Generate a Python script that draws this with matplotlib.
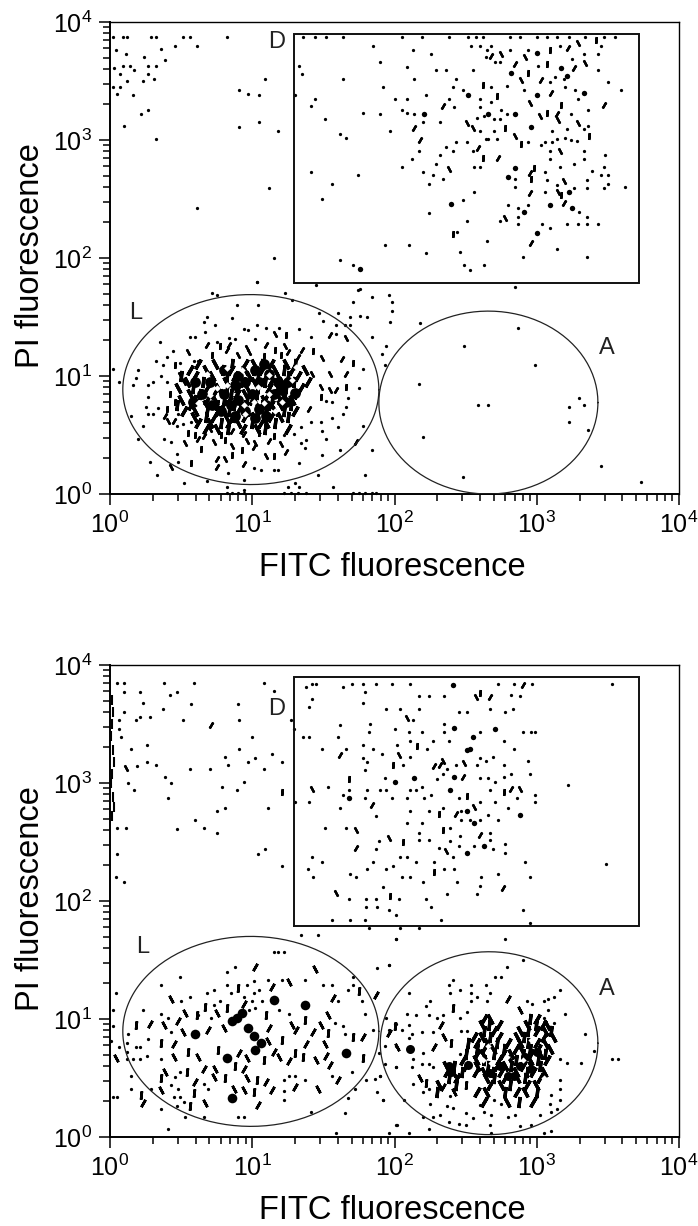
import numpy as np
import matplotlib
matplotlib.use("Agg")
from matplotlib import pyplot as plt
from matplotlib.ticker import LogLocator, NullFormatter

plt.rcParams['font.family'] = ['Liberation Sans', 'DejaVu Sans']

# all events are (log10 FITC, log10 PI)

# ---- upper panel ----
top_d_dots = [
    (1.36,3.87),(1.44,3.87),(1.52,3.87),(1.64,3.87),(2.05,3.87),(2.19,3.87),(2.38,3.87),(2.52,3.87),(2.57,3.87),(2.62,3.87),
    (2.81,3.87),(2.88,3.87),(3.00,3.87),(3.07,3.87),(3.14,3.87),(3.23,3.87),(3.34,3.87),(3.47,3.87),(3.55,3.87),
    (1.85,3.80),(2.13,3.76),(2.26,3.73),(2.54,3.80),(2.60,3.80),(2.68,3.80),(2.65,3.76),(2.64,3.70),(2.81,3.76),(2.94,3.76),
    (3.45,3.80),(3.33,3.73),(3.43,3.73),(3.25,3.69),(3.16,3.80),(2.71,3.66),(2.74,3.66),(3.43,3.59),(3.01,3.63),(3.13,3.53),
    (3.19,3.52),(3.09,3.49),(3.50,3.49),(1.90,3.66),(2.09,3.62),(2.29,3.59),(2.36,3.59),(2.55,3.59),(1.33,3.63),(1.35,3.56),
    (1.64,3.52),(2.14,3.52),(2.43,3.52),(1.92,3.45),(2.41,3.45),(2.68,3.45),(2.79,3.46),(2.91,3.42),(3.20,3.45),(3.27,3.42),
    (3.59,3.42),(2.48,3.42),(2.22,3.38),(1.30,3.38),(1.44,3.35),(2.00,3.35),(2.09,3.35),(2.38,3.35),(2.60,3.35),(2.68,3.32),
    (3.29,3.35),(1.41,3.29),(2.42,3.28),(2.60,3.28),(1.78,3.23),(1.90,3.22),(2.05,3.25),(2.09,3.23),(2.14,3.22),(2.58,3.19),
    (2.63,3.20),(2.70,3.18),(2.74,3.18),(2.75,3.25),(2.79,3.22),(3.24,3.22),(3.36,3.25),(1.51,3.18),(2.32,3.15),(2.20,3.15),
    (2.60,3.08),(2.70,3.08),(3.11,3.08),(3.21,3.09),(3.33,3.09),(3.36,3.12),(1.97,3.08),(1.62,3.05),(1.66,3.02),(2.64,3.01),
    (2.66,3.01),(2.72,3.01),(2.94,2.98),(3.03,2.96),(3.06,2.98),(3.11,2.98),(3.14,3.01),(3.20,3.02),(3.24,3.00),(3.28,2.99),
    (2.36,2.94),(2.43,2.98),(2.51,2.98),(2.55,2.91),(2.41,2.91),(2.17,2.91),(3.09,2.91),(3.33,2.91),(2.32,2.87),(3.48,2.87),
    (2.12,2.84),(3.09,2.84),(3.33,2.84),(2.29,2.80),(2.05,2.77),(2.56,2.77),(2.60,2.77),(3.16,2.77),(3.26,2.80),(3.47,2.77),
    (1.41,2.73),(2.20,2.73),(3.06,2.73),(3.39,2.74),(3.45,2.70),(3.50,2.70),(1.74,2.70),(2.27,2.70),(2.34,2.67),(2.85,2.67),
    (3.07,2.66),(3.35,2.66),(1.56,2.63),(2.24,2.63),(3.14,2.62),(3.50,2.63),(2.85,2.60),(3.26,2.59),(3.35,2.59),(3.47,2.59),
    (3.62,2.60),(3.06,2.56),(2.56,2.56),(1.49,2.50),(2.48,2.49),(2.80,2.45),(2.94,2.45),(3.30,2.39),(2.87,2.42),(2.24,2.38),
    (2.87,2.35),(3.35,2.35),(2.51,2.31),(2.74,2.31),(2.87,2.29),(3.04,2.29),(3.09,2.25),(3.21,2.29),(3.29,2.29),(3.35,2.29),
    (3.43,2.29),(2.44,2.22),(2.65,2.14),(1.93,2.11),(2.10,2.11),(3.14,2.08),(2.22,2.04),(2.46,2.05),(2.90,2.01),(3.35,2.01),
    (1.62,1.98),(1.71,1.94),(2.49,1.94),(2.53,1.90),(2.63,1.94),
]
top_d_strokes = [
    (2.68,3.71),(2.75,3.73),(3.09,3.76),(3.22,3.78),(3.29,3.82),(3.42,3.85),(2.85,3.64),(2.92,3.70),(3.07,3.64),(3.26,3.61),
    (3.34,3.65),(2.94,3.57),(3.03,3.51),(2.89,3.51),(2.62,3.47),(3.10,3.40),(2.51,3.14),(2.72,3.37),(2.34,3.29),(2.95,3.31),
    (3.17,3.30),(3.47,3.30),(3.02,3.20),(3.07,3.23),(3.14,3.22),(3.15,3.17),(2.78,3.10),(2.14,3.10),(3.29,3.14),(3.37,3.03),
    (2.18,3.00),(2.85,3.03),(2.89,2.97),(2.59,2.93),(3.16,2.91),(2.62,2.85),(2.73,2.85),(2.38,2.75),(2.98,2.76),(2.95,2.72),
    (3.19,2.65),(2.96,2.67),(2.95,2.55),(3.15,2.56),(3.17,2.53),(3.19,2.47),(2.78,2.34),(2.41,2.20),(2.96,2.13),(2.55,3.10),
]
top_d_blobs = [
    (3.00,3.74),(2.82,3.57),(3.21,3.54),(3.17,3.61),(3.33,3.40),(2.52,3.38),(3.00,3.38),(2.21,3.22),(2.66,3.22),(2.85,3.22),
    (2.96,3.11),(2.85,2.76),(2.80,2.69),(3.23,2.56),(2.40,2.46),(3.09,2.45),(3.25,2.42),(2.91,2.39),(3.00,2.21),(1.76,1.91),
]
top_left_dots = [
    (0.02,3.87),(0.09,3.87),(0.12,3.87),(0.29,3.87),(0.32,3.87),(0.51,3.87),(0.56,3.87),(0.82,3.87),(0.61,3.80),(0.46,3.80),
    (0.36,3.77),(0.04,3.76),(0.11,3.73),(0.24,3.70),(0.39,3.68),(0.03,3.61),(0.09,3.63),(0.14,3.63),(0.17,3.59),(0.27,3.63),
    (0.32,3.63),(0.07,3.56),(0.27,3.56),(0.31,3.52),(0.12,3.50),(0.23,3.50),(0.02,3.45),(0.07,3.45),(0.05,3.39),(0.16,3.38),
    (1.09,3.52),(0.91,3.42),(0.97,3.39),(1.05,3.38),(0.27,3.25),(0.22,3.22),(0.10,3.12),(0.91,3.11),(1.05,3.15),(1.18,3.08),
    (0.32,3.01),(1.12,2.59),(0.61,2.42),(1.15,2.00),(1.03,1.80),
]
top_a_dots = [
    (2.17,0.93),(2.59,0.75),(2.66,0.75),(2.20,0.48),(2.99,1.09),(3.23,0.74),(3.33,0.75),(3.30,0.81),(3.23,0.61),(3.36,0.54),
    (2.48,0.14),(3.45,0.24),(3.73,0.10),(1.94,1.25),(1.74,1.73),(1.96,1.69),(1.98,1.55),(1.76,1.51),(1.65,1.43),(2.49,1.25),
    (2.87,1.41),(2.85,1.75),(2.18,1.45),
]
top_l_dots = [
    (0.72,1.70),(0.75,1.69),(1.23,1.70),(1.03,1.80),(1.45,1.77),(1.76,1.74),(1.84,1.67),(1.71,1.63),(1.98,1.63),(1.28,1.64),
    (0.89,1.60),(1.04,1.60),(1.47,1.53),(1.60,1.53),(1.69,1.50),(1.81,1.50),(1.69,1.43),(1.97,1.46),(0.86,1.49),(0.68,1.50),
    (0.66,1.46),(0.74,1.43),(1.50,1.47),(1.59,1.43),(0.94,1.40),(1.03,1.43),(1.10,1.41),(1.19,1.41),(1.33,1.40),(0.56,1.33),
    (0.60,1.33),(0.67,1.37),(0.35,1.29),(0.84,1.32),(0.88,1.31),(0.75,1.29),(0.97,1.39),(1.02,1.31),(1.41,1.33),(1.84,1.33),
    (1.59,1.36),(0.44,1.21),(0.40,1.16),(0.32,1.13),(0.37,1.09),(0.49,1.11),(0.59,1.13),(0.62,1.13),(1.91,1.19),(1.93,1.09),
    (0.20,1.05),(0.02,1.06),(0.06,0.95),(0.18,0.98),(0.16,0.92),(0.27,0.92),(0.30,0.95),(0.40,0.95),(0.36,1.00),(1.78,1.06),
    (1.75,0.90),(1.67,0.81),(0.27,0.82),(0.34,0.73),(0.25,0.74),(0.30,0.68),(0.27,0.68),(0.15,0.66),(0.48,0.68),(0.23,0.58),
    (0.47,0.58),(0.51,0.59),(0.57,0.61),(1.64,0.68),(1.66,0.74),(1.56,0.78),(1.52,0.79),(1.56,0.64),(1.60,0.57),(1.48,0.61),
    (1.41,0.61),(1.34,0.57),(1.78,0.58),(0.20,0.47),(0.38,0.47),(0.43,0.44),(0.47,0.34),(1.22,0.50),(1.29,0.51),(1.34,0.43),
    (1.38,0.46),(1.49,0.53),(1.52,0.47),(1.37,0.39),(1.49,0.33),(1.62,0.37),(1.84,0.37),(0.28,0.27),(0.33,0.16),(0.48,0.27),
    (0.52,0.09),(0.68,0.11),(1.01,0.22),(1.06,0.20),(1.15,0.20),(1.18,0.20),(1.33,0.26),(1.46,0.16),(1.79,0.16),(1.57,0.06),
    (1.25,0.06),(1.30,0.09),(1.33,0.06),(0.82,0.06),(0.94,0.03),(0.94,0.12),(0.83,0.18),
]
top_l_strokes = [
    (0.68,1.26),(1.16,1.36),(1.24,1.35),(1.55,1.35),(1.66,1.32),(1.71,1.11),(1.63,1.14),(1.49,1.15),(1.43,1.21),(1.35,1.22),
    (1.23,1.25),(1.16,1.22),(1.10,1.26),(0.96,1.24),(0.77,1.25),(0.84,1.26),(0.49,1.01),(0.46,1.09),(1.66,1.02),(1.55,1.02),
    (1.66,0.91),(1.59,0.88),(1.48,0.91),(0.46,0.78),(0.39,0.66),(0.53,0.43),(0.60,0.50),(0.66,0.49),(0.73,0.44),(0.81,0.46),
    (0.94,0.51),(1.02,0.43),(1.15,0.49),(1.73,0.44),(0.43,0.23),(0.57,0.26),(0.75,0.23),(0.81,0.30),(0.86,0.33),(0.94,0.25),
    (1.10,0.32),(1.15,0.32),(1.24,0.36),(0.86,0.41),(0.93,0.37),(1.01,0.40),(0.41,0.62),(1.20,1.18),(1.32,1.16),(0.90,1.18),
    (0.55,0.52),(0.62,0.47),(0.70,0.55),(0.78,0.50),(0.86,0.53),(0.96,0.45),(1.05,0.52),(1.12,0.45),(1.20,0.42),(0.64,0.38),
    (0.75,0.30),(0.55,1.20),(0.72,1.18),(0.82,1.22),(0.98,1.20),(1.08,1.17),(1.25,1.20),(1.42,1.02),(1.48,0.82),(1.40,0.72),
    (1.55,0.88),(0.40,0.72),(0.45,0.62),(0.52,0.95),(0.42,0.85),
]
# dense middle of the L population, one row per PI level
top_l_core_y = [1.10, 1.05, 1.00, 0.95, 0.90, 0.85, 0.80, 0.75, 0.70, 0.65, 0.60, 0.55]
top_l_core_x = [
    [0.62, 0.74, 0.86, 0.95, 1.01, 1.07, 1.13, 1.24, 1.30],
    [0.55, 0.66, 0.78, 0.84, 0.94, 1.00, 1.06, 1.15, 1.21, 1.27, 1.36],
    [0.50, 0.60, 0.72, 0.82, 0.88, 0.98, 1.04, 1.10, 1.18, 1.25, 1.32],
    [0.53, 0.64, 0.70, 0.80, 0.86, 0.92, 1.00, 1.08, 1.12, 1.20, 1.28, 1.38],
    [0.48, 0.58, 0.68, 0.76, 0.82, 0.90, 0.96, 1.04, 1.12, 1.18, 1.24, 1.34],
    [0.55, 0.62, 0.72, 0.78, 0.84, 0.88, 0.94, 1.02, 1.10, 1.16, 1.22, 1.30],
    [0.50, 0.60, 0.68, 0.74, 0.80, 0.84, 0.90, 0.96, 1.00, 1.08, 1.14, 1.20, 1.28],
    [0.46, 0.56, 0.66, 0.74, 0.78, 0.82, 0.86, 0.92, 1.02, 1.06, 1.12, 1.18, 1.26],
    [0.52, 0.60, 0.68, 0.76, 0.80, 0.84, 0.90, 0.96, 1.04, 1.10, 1.16, 1.22, 1.30],
    [0.58, 0.66, 0.72, 0.80, 0.86, 0.94, 1.00, 1.08, 1.12, 1.18, 1.24],
    [0.62, 0.70, 0.78, 0.84, 0.90, 1.00, 1.06, 1.10, 1.16],
    [0.66, 0.74, 0.82, 0.92, 1.02, 1.08, 1.24],
]
top_l_blobs = [
    (0.95,0.95),(1.02,1.05),(1.05,0.95),(0.80,0.85),(0.85,0.75),(0.90,0.80),(1.15,0.85),(1.10,0.75),(1.18,0.95),(0.70,0.95),
    (0.72,0.75),(0.95,0.70),(1.05,0.72),(1.00,0.85),(0.88,0.92),(1.12,1.02),(0.65,0.85),(1.24,0.78),(1.25,0.95),(0.80,1.05),
    (0.90,1.00),(0.78,0.70),(0.88,0.66),(1.02,0.64),(1.10,0.66),(1.20,0.88),(0.60,0.95),(0.58,0.78),(1.30,0.86),(1.08,1.10),
]
top_l_holes = [
    (1.04,0.91),(1.12,0.85),(1.08,0.77),(1.21,0.78),(1.01,0.78),(0.94,0.75),(0.75,0.90),(0.70,0.84),(0.82,0.92),(0.93,1.05),
    (1.12,1.01),(1.28,0.97),(0.62,0.77),(1.16,0.70),(0.95,0.68),(0.82,1.07),(0.68,1.02),(1.31,1.08),
]
top_axis_dots = [(0.82,0.01),(0.86,0.01),(0.90,0.01),(0.94,0.01),(1.22,0.01),(1.27,0.01),(1.32,0.01),(1.38,0.01),
                 (1.71,0.01),(1.75,0.01),(1.79,0.01),(1.84,0.01),(1.87,0.01)]

# ---- lower panel ----
bottom_d_dots = [
    (1.38,3.81),(1.42,3.84),(1.45,3.84),(1.64,3.81),(1.70,3.84),(1.78,3.84),(1.87,3.84),(1.98,3.84),(2.11,3.84),(2.73,3.84),
    (2.84,3.84),(2.97,3.84),(3.53,3.84),(1.79,3.77),(2.17,3.74),(2.24,3.74),(2.35,3.74),(2.82,3.75),(2.88,3.74),(1.42,3.71),
    (1.78,3.68),(1.40,3.64),(1.94,3.63),(2.04,3.63),(2.17,3.63),(2.67,3.63),(2.83,3.63),(2.45,3.60),(2.51,3.60),(2.78,3.60),
    (2.13,3.53),(1.62,3.49),(1.83,3.50),(2.35,3.50),(2.00,3.46),(1.29,3.46),(1.82,3.43),(2.10,3.43),(2.19,3.43),(2.35,3.43),
    (2.60,3.43),(2.90,3.43),(2.96,3.43),(2.99,3.43),(1.36,3.39),(1.40,3.39),(1.60,3.39),(2.11,3.36),(2.27,3.36),(2.38,3.36),
    (2.77,3.36),(1.78,3.32),(2.02,3.32),(1.49,3.29),(1.66,3.29),(1.85,3.29),(2.23,3.29),(2.84,3.29),(1.91,3.25),(2.11,3.22),
    (1.78,3.21),(2.60,3.21),(2.69,3.22),(1.81,3.18),(2.64,3.19),(2.94,3.19),(2.06,3.15),(2.43,3.15),(2.58,3.15),(2.77,3.15),
    (1.79,3.11),(2.37,3.12),(2.34,3.08),(2.82,3.08),(2.95,3.08),(1.93,3.04),(2.30,3.03),(2.60,3.04),(2.66,3.04),(2.77,3.05),
    (2.71,3.01),(1.53,2.97),(1.68,2.94),(1.81,2.94),(1.90,2.94),(1.94,2.94),(2.11,2.94),(2.15,2.94),(2.19,2.97),(2.67,2.94),
    (3.22,2.98),(1.64,2.90),(1.79,2.87),(1.98,2.87),(2.09,2.87),(2.21,2.87),(2.26,2.90),(2.45,2.87),(2.86,2.87),(2.99,2.90),
    (1.40,2.84),(1.30,2.84),(2.60,2.84),(2.71,2.84),(2.99,2.84),(1.62,2.79),(2.34,2.79),(2.80,2.79),(2.11,2.76),(2.24,2.76),
    (2.47,2.76),(2.50,2.76),(1.87,2.72),(2.66,2.73),(2.47,2.69),(2.53,2.69),(2.60,2.69),(2.73,2.69),(2.09,2.66),(2.19,2.66),
    (1.51,2.62),(1.66,2.62),(2.39,2.62),(2.17,2.58),(2.67,2.58),(1.89,2.51),(2.17,2.52),(2.24,2.52),(2.39,2.51),(2.46,2.55),
    (2.67,2.52),(1.87,2.44),(2.31,2.45),(2.45,2.47),(2.56,2.47),(2.69,2.44),(2.78,2.48),(2.78,2.41),(1.42,2.37),(1.49,2.33),
    (1.85,2.33),(2.04,2.37),(2.09,2.37),(2.15,2.33),(2.28,2.33),(2.41,2.37),(2.92,2.33),(3.49,2.31),(1.39,2.27),(1.81,2.27),
    (1.94,2.27),(1.99,2.30),(2.35,2.27),(2.42,2.27),(1.69,2.23),(2.73,2.23),(1.43,2.20),(1.73,2.20),(2.05,2.20),(2.11,2.20),
    (2.20,2.16),(2.44,2.16),(2.61,2.20),(2.95,2.20),(1.92,2.12),(2.60,2.13),(2.37,2.06),(2.58,2.06),(1.68,2.02),(1.80,2.02),
    (1.87,2.02),(2.03,2.02),(2.22,2.02),(1.80,1.95),(1.88,1.95),(2.26,1.95),(1.96,1.92),(2.01,1.88),(2.90,1.92),(1.56,1.84),
    (1.69,1.84),(1.79,1.84),(2.33,1.84),(2.95,1.81),(1.82,1.77),(2.04,1.77),(2.17,1.77),
]
bottom_d_strokes = [
    (2.90,3.83),(2.57,3.73),(2.60,3.76),(2.67,3.73),(2.09,3.55),(2.16,3.31),(1.62,3.24),(2.03,3.24),(1.99,3.15),(2.28,3.14),
    (2.49,3.17),(1.68,3.03),(2.48,3.05),(1.42,2.95),(2.77,2.92),(2.82,2.95),(2.88,2.95),(2.51,2.89),(1.84,2.81),(2.56,2.80),
    (2.31,2.74),(2.43,2.74),(1.73,2.60),(2.34,2.60),(2.60,2.56),(1.96,2.53),(2.06,2.50),(1.73,2.45),(2.36,2.42),(2.28,2.25),
    (2.76,2.11),(1.59,2.07),(1.97,2.04),(2.32,3.15),(2.34,3.19),
]
bottom_d_blobs = [
    (2.41,3.83),(2.42,3.47),(2.71,3.46),(2.53,3.29),(2.51,3.28),(2.00,3.01),(2.14,3.04),(2.42,3.05),(2.39,2.94),(1.68,2.87),
    (2.51,2.76),(2.88,2.73),(2.56,2.66),(2.51,2.41),(2.63,2.47),(2.55,3.39),
]
bottom_left_dots = [
    (0.05,3.85),(0.10,3.85),(0.38,3.85),(0.59,3.85),(1.08,3.85),(1.15,3.78),(0.10,3.77),(0.21,3.77),(0.42,3.75),(0.47,3.77),
    (0.23,3.68),(0.57,3.67),(0.90,3.67),(0.37,3.63),(0.10,3.60),(0.28,3.56),(0.21,3.56),(0.18,3.53),(0.06,3.53),(0.51,3.53),
    (0.91,3.53),(1.27,3.53),(0.06,3.46),(0.08,3.39),(1.00,3.39),(0.26,3.32),(0.15,3.29),(0.91,3.29),(0.81,3.22),(1.14,3.25),
    (0.97,3.18),(1.02,3.21),(1.21,3.18),(0.26,3.18),(0.19,3.14),(0.32,3.15),(0.83,3.15),(0.56,3.12),(0.70,3.12),(1.08,3.12),
    (0.39,3.05),(0.43,3.00),(0.13,3.00),(0.94,3.01),(0.79,2.97),(0.89,2.94),(0.17,2.94),(0.41,2.87),(0.81,2.79),(0.75,2.76),
    (1.11,2.79),(0.60,2.69),(0.66,2.62),(0.47,2.61),(0.75,2.58),(0.05,2.62),(0.11,2.62),(1.04,2.40),(1.09,2.44),(0.05,2.40),
    (1.21,2.30),(0.04,2.20),(0.10,2.16),
]
bottom_left_strokes = [(0.71,3.49),(0.11,3.13),(1.21,2.92)]
# events piled against the PI axis
bottom_edge_y = [3.70, 3.60, 3.50, 3.40, 3.28, 3.18, 3.08, 3.00, 2.88, 2.80, 2.72]
bottom_edge_x = [0.015, 0.02, 0.015, 0.01, 0.02, 0.03, 0.015, 0.01, 0.02, 0.03, 0.015]

bottom_l_dots = [
    (1.34,1.71),(1.46,1.71),(2.01,1.68),(1.15,1.57),(1.18,1.57),(1.22,1.57),(0.88,1.44),(0.82,1.40),(1.96,1.46),(1.88,1.43),
    (0.49,1.36),(1.71,1.36),(0.36,1.29),(0.82,1.29),(0.96,1.29),(1.01,1.32),(1.05,1.25),(1.11,1.33),(1.21,1.33),(1.37,1.33),
    (1.50,1.29),(1.56,1.29),(1.67,1.25),(1.71,1.29),(0.04,1.22),(0.68,1.22),(0.73,1.25),(0.85,1.22),(1.01,1.22),(0.56,1.19),
    (0.50,1.15),(0.73,1.12),(0.77,1.15),(0.94,1.19),(1.00,1.15),(1.07,1.15),(1.60,1.15),(1.77,1.15),(0.23,1.08),(0.36,1.04),
    (0.41,1.01),(0.62,1.03),(0.71,1.01),(0.98,1.08),(1.02,1.09),(1.19,1.08),(1.26,1.04),(1.79,1.04),(0.02,1.08),(1.58,0.97),
    (1.64,0.94),(2.01,0.96),(0.02,0.94),(0.13,0.87),(0.43,0.89),(0.27,0.83),(1.85,0.91),(1.65,0.87),(0.01,0.81),(0.06,0.76),
    (0.12,0.80),(0.18,0.76),(0.21,0.76),(0.12,0.72),(0.26,0.69),(0.36,0.66),(0.16,0.66),(0.21,0.66),(0.12,0.66),(1.89,0.71),
    (2.01,0.59),(0.49,0.55),(0.46,0.51),(0.15,0.52),(1.70,0.55),(1.56,0.52),(1.22,0.48),(1.26,0.52),(1.30,0.52),(1.37,0.48),
    (1.80,0.48),(1.86,0.49),(1.90,0.52),(0.15,0.41),(0.29,0.41),(0.43,0.44),(0.48,0.41),(0.66,0.45),(0.69,0.41),(1.22,0.39),
    (1.72,0.41),(1.88,0.38),(0.05,0.34),(0.02,0.34),(0.45,0.34),(0.49,0.34),(1.22,0.31),(1.67,0.33),(1.92,0.31),(0.36,0.24),
    (0.47,0.26),(0.52,0.30),(1.41,0.21),(1.65,0.20),(0.53,0.17),(0.66,0.17),(0.90,0.17),(0.94,0.17),(0.41,0.07),(1.59,0.03),
    (2.01,0.10),(1.96,0.03),
]
bottom_l_strokes = [
    (1.02,1.44),(1.44,1.42),(0.90,1.26),(1.14,1.27),(1.26,1.31),(1.75,1.24),(1.87,1.20),(0.43,1.17),(0.67,1.10),(1.57,1.18),
    (1.53,1.03),(0.18,0.95),(0.48,0.98),(0.51,0.89),(1.71,0.85),(1.78,0.85),(0.04,0.67),(1.78,0.67),(1.55,0.61),(0.39,0.55),
    (0.36,0.50),(1.60,0.48),(0.36,0.40),(0.59,0.37),(1.30,0.42),(1.46,0.41),(0.22,0.36),(0.23,0.29),(0.67,0.29),(0.56,0.26),
    (1.04,0.27),(0.53,1.05),(0.61,1.03),(0.28,0.96),(0.38,0.95),(0.36,0.80),(0.45,0.79),(0.45,0.68),(0.55,0.72),(0.69,0.91),
    (0.75,1.05),(0.82,1.09),(0.94,1.13),(0.80,0.92),(0.76,0.74),(0.91,0.71),(0.96,0.67),(1.10,1.03),(1.12,0.92),(1.11,0.81),
    (1.08,0.65),(1.15,0.72),(1.19,0.68),(1.21,0.82),(1.31,0.91),(1.28,0.95),(1.37,0.99),(1.43,0.89),(1.48,0.95),(1.53,0.88),
    (1.38,0.79),(1.51,0.79),(1.30,0.71),(1.26,0.64),(1.45,0.65),(1.36,0.68),(1.52,0.69),(0.62,0.68),(0.54,0.55),(0.66,0.58),
    (0.74,0.58),(0.88,0.60),(0.94,0.58),(0.96,0.50),(1.03,0.48),(1.10,0.47),(0.94,0.40),(1.01,0.38),(1.14,0.40),(0.73,0.51),
    (0.81,0.50),(0.60,0.47),(0.87,0.41),
]
bottom_l_blobs = [
    (0.60,0.87),(0.86,0.98),(0.89,1.01),(1.01,0.86),(1.02,0.74),(1.15,1.16),(1.37,1.12),(0.82,0.67),(0.86,0.33),(1.66,0.71),
    (0.97,0.92),(0.93,1.05),(1.06,0.80),
]
bottom_a_dots = [
    (2.01,1.68),(2.78,1.68),(1.96,1.46),(2.90,1.50),(2.79,1.44),(2.41,1.33),(2.38,1.29),(2.71,1.36),(2.75,1.36),(3.16,1.25),
    (2.10,1.22),(2.46,1.25),(2.54,1.29),(2.64,1.29),(2.39,1.22),(2.54,1.22),(2.58,1.19),(2.67,1.22),(2.54,1.15),(2.65,1.15),
    (2.25,1.15),(2.22,1.11),(3.05,1.15),(3.08,1.17),(3.12,1.19),(2.97,1.13),(2.93,1.15),(2.51,1.06),(3.08,1.08),(3.20,1.04),
    (2.46,1.01),(2.24,1.03),(2.30,1.01),(2.34,1.03),(2.09,1.04),(2.15,1.03),(1.94,1.01),(3.05,1.01),(3.12,0.97),(2.00,0.96),
    (2.10,0.95),(2.05,0.91),(2.47,0.90),(2.51,0.90),(1.96,0.91),(2.19,0.89),(2.27,0.89),(2.12,0.87),(3.34,0.87),(3.40,0.73),
    (2.10,0.84),(1.93,0.77),(2.01,0.77),(2.20,0.71),(2.13,0.66),(2.19,0.62),(2.24,0.62),(1.93,0.62),(2.01,0.59),(2.12,0.59),
    (2.27,0.59),(2.46,0.70),(3.16,0.66),(3.21,0.63),(3.31,0.63),(3.53,0.66),(3.57,0.66),(1.90,0.52),(3.16,0.48),(3.16,0.41),
    (2.13,0.45),(2.24,0.41),(2.20,0.38),(2.39,0.35),(3.10,0.36),(1.92,0.31),(2.07,0.31),(2.70,0.31),(3.16,0.31),(2.25,0.28),
    (2.37,0.26),(2.41,0.25),(2.60,0.27),(2.75,0.28),(3.09,0.28),(3.14,0.24),(3.10,0.21),(2.32,0.19),(2.20,0.17),(2.27,0.17),
    (2.50,0.20),(2.63,0.21),(2.68,0.19),(2.38,0.13),(2.55,0.16),(2.50,0.10),(2.45,0.11),(2.67,0.10),(2.02,0.10),(2.24,0.07),
    (2.10,0.03),(3.02,0.19),(2.80,0.17),(2.85,0.19),(2.88,0.09),(2.96,0.10),(3.05,0.03),(3.10,0.05),(2.68,0.03),
]
bottom_a_strokes = [
    (2.80,1.17),(2.88,1.08),(2.41,1.09),(2.33,0.95),(2.35,0.85),(2.40,0.80),(2.28,0.76),(2.02,0.76),(2.00,0.94),(1.96,0.88),
    (2.18,0.50),(2.22,0.46),(2.34,0.42),(2.42,0.38),(2.50,0.44),
]
# dense middle of the A population, one row per PI level
bottom_a_core_y = [1.00, 0.95, 0.90, 0.85, 0.80, 0.75, 0.70, 0.65, 0.60, 0.55, 0.50, 0.44, 0.38, 0.30]
bottom_a_core_x = [
    [2.63, 2.67, 2.95, 3.00],
    [2.60, 2.65, 2.72, 2.92, 2.98, 3.03, 3.06],
    [2.63, 2.70, 2.88, 2.94, 3.00, 3.06, 3.10],
    [2.55, 2.60, 2.66, 2.72, 2.85, 2.90, 3.04, 3.10],
    [2.52, 2.58, 2.65, 2.72, 2.80, 2.88, 2.94, 3.00, 3.06],
    [2.57, 2.62, 2.68, 2.76, 2.84, 2.88, 2.94, 3.00, 3.08],
    [2.50, 2.58, 2.62, 2.70, 2.76, 2.82, 2.90, 2.96, 3.02, 3.06],
    [2.47, 2.56, 2.62, 2.72, 2.80, 2.84, 2.90, 2.94, 3.00, 3.06],
    [2.36, 2.42, 2.50, 2.58, 2.66, 2.72, 2.78, 2.82, 2.90, 2.96, 3.02],
    [2.36, 2.40, 2.46, 2.56, 2.62, 2.68, 2.74, 2.84, 2.92, 2.96, 3.04],
    [2.38, 2.44, 2.64, 2.70, 2.78, 2.86, 2.92, 3.02],
    [2.30, 2.42, 2.66, 2.74, 2.80, 2.92, 2.98],
    [2.30, 2.58, 2.64, 2.78, 2.86, 2.92, 3.00],
    [2.62, 2.78, 2.86, 2.96],
]
bottom_a_blobs = [
    (2.38,0.60),(2.40,0.55),(2.11,0.75),(2.74,0.60),(2.92,0.68),(2.96,0.58),(2.84,0.52),(2.52,0.61),(2.67,0.54),(3.00,0.72),
    (2.88,0.60),(2.80,0.52),
]
bottom_a_holes = [(2.68,0.63),(2.62,0.65),(2.90,0.65),(2.79,0.68),(2.96,0.82),(3.05,0.50),(2.66,0.77)]

# gates: log10 limits (left, right, bottom, top)
top_gate_d = [1.29, 3.72, 1.79, 3.90]
top_gate_l = [0.09, 1.89, 0.08, 1.69]
top_gate_a = [1.89, 3.43, 0.00, 1.55]
bottom_gate_d = [1.29, 3.72, 1.79, 3.90]
bottom_gate_l = [0.09, 1.89, 0.09, 1.70]
bottom_gate_a = [1.90, 3.43, 0.02, 1.57]

top_gate_labels = [("D", 1.17, 3.83), ("L", 0.18, 1.53), ("A", 3.49, 1.24)]
bottom_gate_labels = [("D", 1.17, 3.63), ("L", 0.23, 1.61), ("A", 3.49, 1.25)]


def draw_dots(ax, points, size=5.5, marker='o', color='k'):
    pts = np.array(points)
    ax.scatter(10 ** pts[:, 0], 10 ** pts[:, 1], s=size, c=color, marker=marker, linewidths=0, clip_on=False, zorder=3)


def draw_strokes(ax, points, ms=5, mew=1.7):
    pts = np.array(points)
    # short contour pieces, leaning both ways
    for i, angle in enumerate([-30, 28, -6]):
        part = pts[i::3]
        ax.plot(10 ** part[:, 0], 10 ** part[:, 1], linestyle='none', marker=(2, 2, angle),
                ms=ms, mew=mew, color='k', zorder=3)


def draw_rows(ax, row_y, row_x):
    pts = [(x + 0.012 * (k % 2), y) for k, (y, xs) in enumerate(zip(row_y, row_x)) for x in xs]
    draw_strokes(ax, pts, ms=8, mew=2.4)


def draw_ellipse(ax, gate):
    theta = np.linspace(0, 2 * np.pi, 200)
    cx, cy = (gate[0] + gate[1]) / 2, (gate[2] + gate[3]) / 2
    rx, ry = (gate[1] - gate[0]) / 2, (gate[3] - gate[2]) / 2
    ax.plot(10 ** (cx + rx * np.cos(theta)), 10 ** (cy + ry * np.sin(theta)), color='#222222', lw=0.9, zorder=4)


def draw_box(ax, gate):
    xs = [gate[0], gate[1], gate[1], gate[0], gate[0]]
    ys = [gate[2], gate[2], gate[3], gate[3], gate[2]]
    ax.plot(10 ** np.array(xs), 10 ** np.array(ys), color='#111111', lw=1.4, zorder=4, solid_joinstyle='miter')


def setup_axes(ax, labels, xlabel_y, ylabel_y):
    ax.set_xscale('log')
    ax.set_yscale('log')
    ax.set_xlim(1, 1e4)
    ax.set_ylim(1, 1e4)
    for axis in [ax.xaxis, ax.yaxis]:
        axis.set_major_locator(LogLocator(base=10, numticks=6))
        axis.set_minor_locator(LogLocator(base=10, subs=np.arange(2, 10), numticks=6))
        axis.set_minor_formatter(NullFormatter())
    ax.tick_params(which='major', length=8, width=1.1, labelsize=18, direction='out')
    ax.tick_params(which='minor', length=5, width=1.1, direction='out')
    ax.tick_params(axis='x', which='major', pad=5)
    ax.tick_params(axis='y', which='major', pad=5)
    ax.spines['left'].set_linewidth(1.4)
    ax.spines['bottom'].set_linewidth(1.4)
    ax.spines['top'].set_linewidth(1.0)
    ax.spines['right'].set_linewidth(1.0)
    ax.set_xlabel("FITC fluorescence", fontsize=23.5, va='center')
    ax.set_ylabel("PI fluorescence", fontsize=23.5, va='center')
    ax.xaxis.set_label_coords(0.497, xlabel_y)
    ax.yaxis.set_label_coords(-0.139, ylabel_y)
    for text, x, y in labels:
        ax.text(10 ** x, 10 ** y, text, fontsize=17, ha='center', va='center', color='#222222')


fig = plt.figure(figsize=(6.98, 12.26), dpi=100)
ax_top = fig.add_axes([110 / 698, 1 - 494 / 1226, 569 / 698, 472 / 1226])
ax_bottom = fig.add_axes([110 / 698, 1 - 1137 / 1226, 569 / 698, 472 / 1226])

setup_axes(ax_top, top_gate_labels, -0.155, 0.506)
setup_axes(ax_bottom, bottom_gate_labels, -0.155, 0.506)

draw_dots(ax_top, top_d_dots + top_left_dots + top_a_dots + top_l_dots + top_axis_dots)
draw_strokes(ax_top, top_d_strokes)
draw_strokes(ax_top, top_l_strokes)
draw_dots(ax_top, top_d_blobs, size=15)
draw_rows(ax_top, top_l_core_y, top_l_core_x)
draw_dots(ax_top, top_l_blobs, size=60, marker='o')
draw_dots(ax_top, top_l_holes, size=11, marker='D', color='w')
draw_ellipse(ax_top, top_gate_l)
draw_ellipse(ax_top, top_gate_a)
draw_box(ax_top, top_gate_d)

draw_dots(ax_bottom, bottom_d_dots + bottom_left_dots + bottom_l_dots + bottom_a_dots)
draw_strokes(ax_bottom, bottom_d_strokes)
draw_strokes(ax_bottom, bottom_left_strokes)
draw_strokes(ax_bottom, bottom_l_strokes, ms=6, mew=1.9)
draw_strokes(ax_bottom, bottom_a_strokes, ms=6, mew=1.9)
draw_dots(ax_bottom, bottom_d_blobs, size=15)
draw_dots(ax_bottom, bottom_l_blobs, size=48, marker='o')
draw_rows(ax_bottom, bottom_a_core_y, bottom_a_core_x)
draw_dots(ax_bottom, bottom_a_blobs, size=42, marker='o')
draw_dots(ax_bottom, bottom_a_holes, size=10, marker='D', color='w')
ax_bottom.plot(10 ** np.array(bottom_edge_x), 10 ** np.array(bottom_edge_y), linestyle='none', marker='|',
               ms=7, mew=1.5, color='k', zorder=3)
draw_ellipse(ax_bottom, bottom_gate_l)
draw_ellipse(ax_bottom, bottom_gate_a)
draw_box(ax_bottom, bottom_gate_d)

plt.savefig("out.png", dpi=100)
